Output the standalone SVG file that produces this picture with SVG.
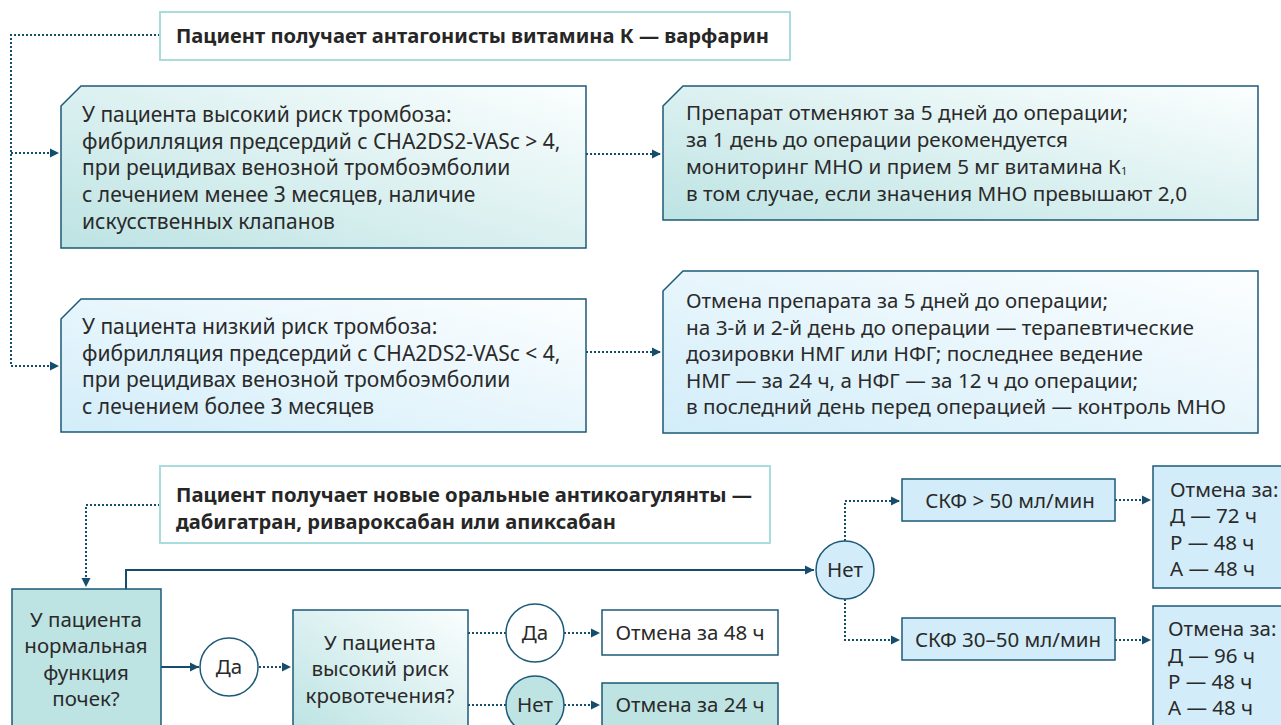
<svg xmlns="http://www.w3.org/2000/svg" width="1281" height="725" viewBox="0 0 1281 725">
<defs>
<linearGradient id="gTeal" x1="0" y1="1" x2="1" y2="0">
<stop offset="0" stop-color="#bde3e3"/>
<stop offset="1" stop-color="#fbfefe"/>
</linearGradient>
<linearGradient id="gBlue" x1="0" y1="1" x2="1" y2="0">
<stop offset="0" stop-color="#d2edf9"/>
<stop offset="1" stop-color="#fcfeff"/>
</linearGradient>
<marker id="ah" markerUnits="userSpaceOnUse" markerWidth="10" markerHeight="10" refX="9" refY="5" orient="auto">
<path d="M0,0.5 L9,5 L0,9.5 Z" fill="#154e6c"/>
</marker>
<style>
.t{font-family:"Noto Sans","Open Sans","DejaVu Sans",sans-serif;font-size:21px;fill:#2a2a2a}
.s{font-family:"Noto Sans","Open Sans","DejaVu Sans",sans-serif;font-size:20.5px;fill:#2a2a2a}
.b{font-family:"Noto Sans","Open Sans","DejaVu Sans",sans-serif;font-size:20px;font-weight:bold;fill:#262626}
.n{font-family:"Noto Sans","Open Sans","DejaVu Sans",sans-serif;font-size:20.5px;fill:#2a2a2a}
.c{text-anchor:middle}
.box{stroke:#1d5a78;stroke-width:1.5}
.ttl{fill:#fff;stroke:#a9dcdd;stroke-width:2}
.dot{fill:none;stroke:#154e6c;stroke-width:2;stroke-dasharray:2 2}
.sol{fill:none;stroke:#154e6c;stroke-width:2}
</style>
</defs>

<g id="connectors">
<path class="dot" d="M160,35 H11 V366 H59" marker-end="url(#ah)"/>
<path class="dot" d="M11,153 H59" marker-end="url(#ah)"/>
<path class="dot" d="M586,154 H661" marker-end="url(#ah)"/>
<path class="dot" d="M586,352 H661" marker-end="url(#ah)"/>
<path class="dot" d="M160,505 H86 V587" marker-end="url(#ah)"/>
<path class="sol" d="M126,589 V570 H814" marker-end="url(#ah)"/>
<path class="sol" d="M161,667 H199" marker-end="url(#ah)"/>
<path class="dot" d="M259,667 H291" marker-end="url(#ah)"/>
<path class="dot" d="M468,633 H506"/>
<path class="dot" d="M564,633 H600" marker-end="url(#ah)"/>
<path class="dot" d="M468,705 H506"/>
<path class="dot" d="M564,705 H600" marker-end="url(#ah)"/>
<path class="dot" d="M845,541 V501 H900" marker-end="url(#ah)"/>
<path class="dot" d="M845,599 V640 H900" marker-end="url(#ah)"/>
<path class="dot" d="M1115,500 H1151" marker-end="url(#ah)"/>
<path class="dot" d="M1115,640 H1151" marker-end="url(#ah)"/>
</g>

<g id="title-vka">
<rect class="ttl" x="160" y="12" width="630" height="48"/>
<text class="b" x="176" y="43" textLength="593" lengthAdjust="spacingAndGlyphs">Пациент получает антагонисты витамина К — варфарин</text>
</g>

<g id="high-risk">
<path class="box" fill="url(#gTeal)" d="M61,106 L81,86 H586 V248 H61 Z"/>
<text class="t" x="82" y="122">У пациента высокий риск тромбоза:</text>
<text class="t" x="82" y="149">фибрилляция предсердий с CHA2DS2-VASc &gt; 4,</text>
<text class="t" x="82" y="175">при рецидивах венозной тромбоэмболии</text>
<text class="t" x="82" y="202">с лечением менее 3 месяцев, наличие</text>
<text class="t" x="82" y="229">искусственных клапанов</text>
</g>

<g id="high-risk-action">
<path class="box" fill="url(#gTeal)" d="M663,106 L683,86 H1258 V220 H663 Z"/>
<text class="n" x="686" y="120" textLength="442" lengthAdjust="spacingAndGlyphs">Препарат отменяют за 5 дней до операции;</text>
<text class="n" x="686" y="147" textLength="382" lengthAdjust="spacingAndGlyphs">за 1 день до операции рекомендуется</text>
<text class="n" x="686" y="174"><tspan textLength="435" lengthAdjust="spacingAndGlyphs">мониторинг МНО и прием 5 мг витамина К</tspan><tspan font-size="11" dy="1">1</tspan></text>
<text class="n" x="686" y="201" textLength="501" lengthAdjust="spacingAndGlyphs">в том случае, если значения МНО превышают 2,0</text>
</g>

<g id="low-risk">
<path class="box" fill="url(#gBlue)" d="M61,319 L81,299 H586 V432 H61 Z"/>
<text class="t" x="82" y="334">У пациента низкий риск тромбоза:</text>
<text class="t" x="82" y="361">фибрилляция предсердий с CHA2DS2-VASc &lt; 4,</text>
<text class="t" x="82" y="387">при рецидивах венозной тромбоэмболии</text>
<text class="t" x="82" y="414">с лечением более 3 месяцев</text>
</g>

<g id="low-risk-action">
<path class="box" fill="url(#gBlue)" d="M663,291 L683,271 H1258 V433 H663 Z"/>
<text class="n" x="686" y="308" textLength="422" lengthAdjust="spacingAndGlyphs">Отмена препарата за 5 дней до операции;</text>
<text class="n" x="686" y="334.5" textLength="508" lengthAdjust="spacingAndGlyphs">на 3-й и 2-й день до операции — терапевтические</text>
<text class="n" x="686" y="361" textLength="457" lengthAdjust="spacingAndGlyphs">дозировки НМГ или НФГ; последнее ведение</text>
<text class="n" x="686" y="387.5" textLength="452" lengthAdjust="spacingAndGlyphs">НМГ — за 24 ч, а НФГ — за 12 ч до операции;</text>
<text class="n" x="686" y="414" textLength="540" lengthAdjust="spacingAndGlyphs">в последний день перед операцией — контроль МНО</text>
</g>

<g id="title-noac">
<rect class="ttl" x="160" y="466" width="610" height="77"/>
<text class="b" x="176" y="502" textLength="576" lengthAdjust="spacingAndGlyphs">Пациент получает новые оральные антикоагулянты —</text>
<text class="b" x="176" y="529" textLength="440" lengthAdjust="spacingAndGlyphs">дабигатран, ривароксабан или апиксабан</text>
</g>

<g id="kidney">
<rect class="box" fill="#bde3e3" x="12" y="589" width="149" height="140"/>
<text class="s c" x="86" y="627">У пациента</text>
<text class="s c" x="86" y="653">нормальная</text>
<text class="s c" x="86" y="680">функция</text>
<text class="s c" x="86" y="706">почек?</text>
</g>

<g id="yes-1">
<circle class="box" fill="#fff" cx="229" cy="667" r="29"/>
<text class="s c" x="229" y="674">Да</text>
</g>

<g id="bleeding">
<rect class="box" fill="url(#gTeal)" x="293" y="610" width="175" height="119"/>
<text class="s c" x="380" y="650">У пациента</text>
<text class="s c" x="380" y="676">высокий риск</text>
<text class="s c" x="380" y="703">кровотечения?</text>
</g>

<g id="yes-2">
<circle class="box" fill="#fff" cx="535" cy="633" r="29"/>
<text class="s c" x="535" y="640">Да</text>
</g>

<g id="no-2">
<circle class="box" fill="#bde3e3" cx="535" cy="705" r="29"/>
<text class="s c" x="535" y="712">Нет</text>
</g>

<g id="cancel-48">
<rect class="box" fill="#fff" x="602" y="610" width="176" height="45"/>
<text class="s c" x="690" y="640">Отмена за 48 ч</text>
</g>

<g id="cancel-24">
<rect class="box" fill="#bde3e3" x="602" y="683" width="176" height="46"/>
<text class="s c" x="690" y="712">Отмена за 24 ч</text>
</g>

<g id="no-1">
<circle class="box" fill="#d2edf9" cx="845" cy="570" r="29"/>
<text class="s c" x="845" y="577">Нет</text>
</g>

<g id="gfr-50">
<rect class="box" fill="#d2edf9" x="902" y="479" width="213" height="42"/>
<text class="s c" x="1010" y="508">СКФ &gt; 50 мл/мин</text>
</g>

<g id="gfr-30-50">
<rect class="box" fill="#d2edf9" x="902" y="618" width="213" height="42"/>
<text class="s c" x="1008" y="647">СКФ 30–50 мл/мин</text>
</g>

<g id="cancel-gfr-50">
<rect class="box" fill="#d2edf9" x="1153" y="466" width="132" height="122"/>
<text class="s" x="1170" y="497">Отмена за:</text>
<text class="s" x="1170" y="523">Д — 72 ч</text>
<text class="s" x="1170" y="550">Р — 48 ч</text>
<text class="s" x="1170" y="576">А — 48 ч</text>
</g>

<g id="cancel-gfr-30-50">
<rect class="box" fill="#d2edf9" x="1153" y="606" width="132" height="124"/>
<text class="s" x="1168" y="636">Отмена за:</text>
<text class="s" x="1168" y="663">Д — 96 ч</text>
<text class="s" x="1168" y="689">Р — 48 ч</text>
<text class="s" x="1168" y="715">А — 48 ч</text>
</g>
</svg>
